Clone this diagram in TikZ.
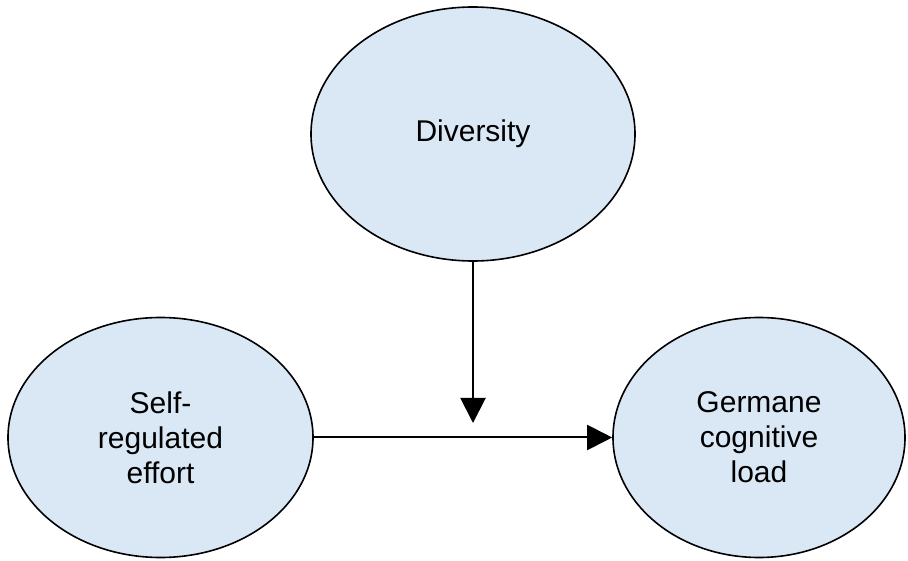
\documentclass[tikz,border=0pt]{standalone}
\usepackage{fontspec}
\setmainfont{Liberation Sans}
\usepackage{tikz}
\usetikzlibrary{shapes.geometric,arrows.meta}
\definecolor{nodeblue}{RGB}{218,232,246}

\begin{document}
\begin{tikzpicture}
    % styles for the three ellipses and the arrows
    [x=1pt,y=1pt,
    VarNode/.style={ellipse,draw=black,fill=nodeblue,line width=1.6pt,inner sep=0pt,align=center,
        font=\fontsize{30}{35}\selectfont},
    Link/.style={line width=2pt,-{Triangle[length=25pt,width=25pt]}}]

    % fix the page size
    \useasboundingbox (0,0) rectangle (908,560);

    % the three variables
    \node[VarNode,minimum width=324pt,minimum height=254pt] (div) at (473,426) {Diversity};
    \node[VarNode,minimum width=305pt,minimum height=240pt] (self) at (160.5,122.5) {Self-\\regulated\\effort};
    \node[VarNode,minimum width=292pt,minimum height=240pt] (germ) at (759,122.5) {Germane\\cognitive\\load};

    % end point of the moderating arrow
    \coordinate (meet) at (473,137);

    % arrows
    \draw[Link] (self) -- (germ);
    \draw[Link] (div) -- (meet);
\end{tikzpicture}
\end{document}
